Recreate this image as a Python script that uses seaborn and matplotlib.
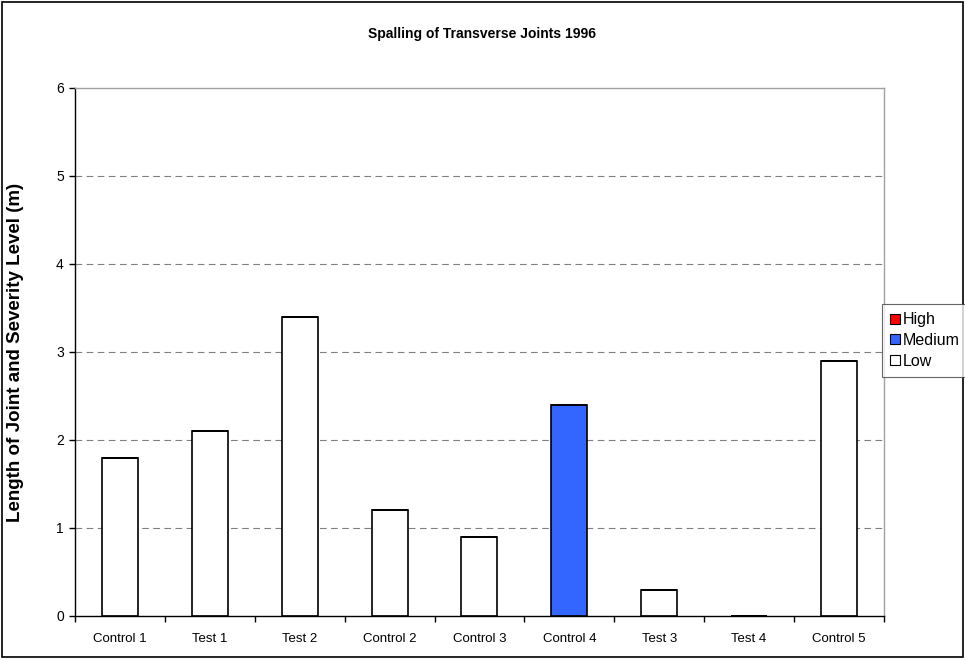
import matplotlib
matplotlib.use('Agg')
import matplotlib.pyplot as plt
import matplotlib.patches as mpatches
import numpy as np
import seaborn as sns

# Data
sections = ['Control 1', 'Test 1', 'Test 2', 'Control 2', 'Control 3',
            'Control 4', 'Test 3', 'Test 4', 'Control 5']
low = [1.8, 2.1, 3.4, 1.2, 0.9, 0.0, 0.3, 0.0, 2.9]
medium = [0.0, 0.0, 0.0, 0.0, 0.0, 2.4, 0.0, 0.0, 0.0]
high = [0.0, 0.0, 0.0, 0.0, 0.0, 0.0, 0.0, 0.0, 0.0]

colors = {'High': '#FF0000', 'Medium': '#3366FF', 'Low': '#FFFFFF'}


def main():
    sns.set_style('white')
    plt.rcParams['font.family'] = ['Liberation Sans', 'DejaVu Sans']
    plt.rcParams['text.color'] = 'black'
    plt.rcParams['xtick.color'] = 'black'
    plt.rcParams['ytick.color'] = 'black'
    plt.rcParams['axes.labelcolor'] = 'black'

    fig = plt.figure(figsize=(9.65, 6.59), dpi=100)
    ax = fig.add_axes([0.0777, 0.0653, 0.8383, 0.8012])

    bottom_med = np.array(low)
    bottom_high = bottom_med + np.array(medium)

    sns.barplot(x=sections, y=low, color=colors['Low'], edgecolor='black',
                linewidth=1.2, width=0.4, saturation=1, ax=ax)
    sns.barplot(x=sections, y=medium, bottom=bottom_med, color=colors['Medium'],
                edgecolor='black', linewidth=1.2, width=0.4, saturation=1, ax=ax)
    sns.barplot(x=sections, y=high, bottom=bottom_high, color=colors['High'],
                edgecolor='black', linewidth=1.2, width=0.4, saturation=1, ax=ax)

    ax.set_ylim(0, 6)
    ax.set_xlim(-0.5, len(sections) - 0.5)
    ax.set_yticks(range(0, 7))
    ax.tick_params(axis='y', labelsize=10, length=4, direction='out', left=True,
                   width=1, color='black', pad=4)
    ax.tick_params(axis='x', labelsize=9.5, length=0, pad=12)
    # category boundary ticks on x axis
    ax.set_xticks(np.arange(-0.5, len(sections)), minor=True)
    ax.tick_params(axis='x', which='minor', length=4, width=1, color='black',
                   bottom=True)

    for y in range(1, 6):
        ax.axhline(y, color='#808080', linestyle=(0, (6, 4)), linewidth=0.8,
                   zorder=0)

    for side in ['top', 'right']:
        ax.spines[side].set_color('#A0A0A0')
        ax.spines[side].set_linewidth(1)
    for side in ['left', 'bottom']:
        ax.spines[side].set_color('black')
        ax.spines[side].set_linewidth(1)

    ax.set_ylabel('Length of Joint and Severity Level (m)', fontsize=13.5,
                  fontweight='bold')
    ax.yaxis.set_label_coords(-0.063, 0.5)
    ax.set_xlabel('')
    fig.suptitle('Spalling of Transverse Joints 1996', fontsize=10,
                 fontweight='bold', y=0.959)

    handles = [mpatches.Patch(facecolor=colors[k], edgecolor='black',
                              linewidth=0.8, label=k)
               for k in ['High', 'Medium', 'Low']]
    leg = fig.legend(handles=handles, loc='upper left',
                     bbox_to_anchor=(0.914, 0.538), fontsize=11.5,
                     frameon=True, fancybox=False, edgecolor='#404040',
                     handlelength=0.6, handleheight=0.6, handletextpad=0.2,
                     borderpad=0.5, labelspacing=0.35, borderaxespad=0)
    leg.get_frame().set_linewidth(0.8)

    fig.patches.append(mpatches.Rectangle((0.002, 0.003), 0.996, 0.994,
                                          transform=fig.transFigure,
                                          fill=False, edgecolor='black',
                                          linewidth=1.2))

    fig.savefig('out.png', dpi=100)


if __name__ == '__main__':
    main()
